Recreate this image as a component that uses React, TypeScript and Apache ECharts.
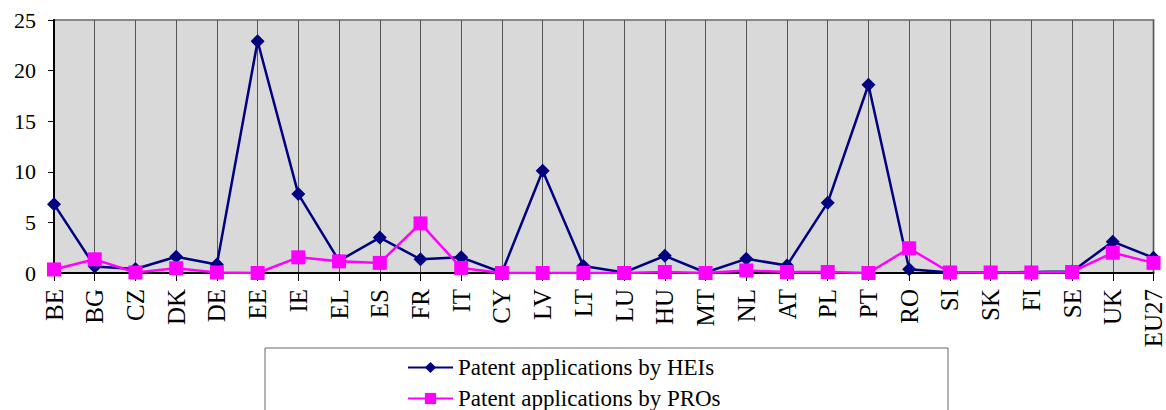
import React, { useEffect, useRef } from "react";
import * as echarts from "echarts";

const categories = ["BE","BG","CZ","DK","DE","EE","IE","EL","ES","FR","IT","CY","LV","LT","LU","HU","MT","NL","AT","PL","PT","RO","SI","SK","FI","SE","UK","EU27"];
const heiValues = [6.8,0.65,0.4,1.6,0.85,22.9,7.8,1.2,3.5,1.35,1.55,0.05,10.1,0.7,0.05,1.7,0.05,1.4,0.75,6.95,18.6,0.37,0.05,0.05,0.1,0.15,3.1,1.5];
const proValues = [0.35,1.35,0.05,0.47,0.05,0.0,1.55,1.15,1.0,4.9,0.5,0.0,0.0,0.0,0.0,0.1,0.0,0.25,0.1,0.1,0.0,2.44,0.05,0.05,0.05,0.1,2.0,1.0];
const seriesNames = ["Patent applications by HEIs", "Patent applications by PROs"];

const FONT = "Liberation Serif";

export default function App() {
  const ref = useRef<HTMLDivElement>(null);
  useEffect(() => {
    document.body.style.margin = "0";
    const chart = echarts.init(ref.current!, null, { renderer: "svg" });
    const legendCommon = {
      orient: "horizontal",
      left: 407,
      padding: 0,
      itemWidth: 45,
      itemHeight: 14,
      itemGap: 7,
      textStyle: { color: "#000", fontSize: 23, fontFamily: FONT },
    };
    chart.setOption({
      animation: false,
      grid: {
        left: 54,
        top: 20,
        right: 7,
        bottom: 137,
        show: true,
        backgroundColor: "#D9D9D9",
        borderColor: "#888888",
        borderWidth: 2,
      },
      xAxis: {
        type: "category",
        data: categories,
        boundaryGap: false,
        axisLine: { lineStyle: { color: "#000", width: 2 } },
        axisTick: { show: true, length: 8, lineStyle: { color: "#000" }, alignWithLabel: true },
        axisLabel: {
          rotate: 90,
          interval: 0,
          margin: 16,
          color: "#000",
          fontSize: 25,
          fontFamily: FONT,
        },
        splitLine: { show: true, lineStyle: { color: "#555", width: 1 } },
      },
      yAxis: {
        type: "value",
        min: 0,
        max: 25,
        interval: 5,
        axisLine: { show: true, lineStyle: { color: "#000", width: 2 } },
        axisTick: { show: true, length: 6, lineStyle: { color: "#000" } },
        axisLabel: { color: "#000", fontSize: 22, fontFamily: FONT, margin: 18 },
        splitLine: { show: false },
      },
      legend: [
        { ...legendCommon, top: 356, data: [seriesNames[0]] },
        { ...legendCommon, top: 387, data: [seriesNames[1]] },
      ],
      graphic: [
        {
          type: "rect",
          shape: { x: 265, y: 348, width: 683, height: 80 },
          style: { fill: "none", stroke: "#666", lineWidth: 1 },
          silent: true,
        },
      ],
      series: [
        {
          name: seriesNames[0],
          type: "line",
          data: heiValues,
          symbol: "diamond",
          symbolSize: 14,
          lineStyle: { color: "#000080", width: 2.5 },
          itemStyle: { color: "#000080" },
        },
        {
          name: seriesNames[1],
          type: "line",
          data: proValues,
          symbol: "rect",
          symbolSize: 14,
          lineStyle: { color: "#FF00FF", width: 2.5 },
          itemStyle: { color: "#FF00FF" },
        },
      ],
    });
    return () => chart.dispose();
  }, []);
  return <div ref={ref} style={{ width: 1166, height: 410 }} />;
}
